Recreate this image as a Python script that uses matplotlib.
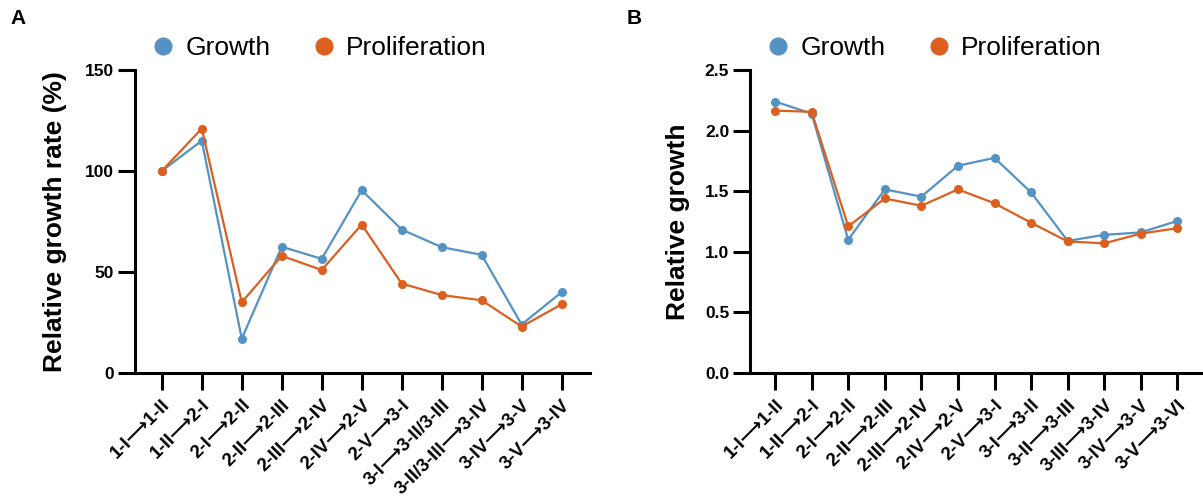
import matplotlib
matplotlib.use("Agg")
import matplotlib.pyplot as plt
from matplotlib.lines import Line2D

plt.rcParams['font.family'] = ['Liberation Sans', 'DejaVu Sans']

# Panel A data
cats_a = ["1-I⟶1-II", "1-II⟶2-I", "2-I⟶2-II", "2-II⟶2-III", "2-III⟶2-IV",
          "2-IV⟶2-V", "2-V⟶3-I", "3-I⟶3-II/3-III", "3-II/3-III⟶3-IV",
          "3-IV⟶3-V", "3-V⟶3-IV"]
growth_a = [100, 115, 17, 62.5, 56.5, 90.5, 71, 62.3, 58.5, 24, 40]
prolif_a = [100, 121, 35, 58, 51, 73.5, 44.3, 38.6, 36, 23, 34]

# Panel B data
cats_b = ["1-I⟶1-II", "1-II⟶2-I", "2-I⟶2-II", "2-II⟶2-III", "2-III⟶2-IV",
          "2-IV⟶2-V", "2-V⟶3-I", "3-I⟶3-II", "3-II⟶3-III", "3-III⟶3-IV",
          "3-IV⟶3-V", "3-V⟶3-VI"]
growth_b = [2.24, 2.14, 1.10, 1.515, 1.455, 1.71, 1.775, 1.49, 1.09, 1.14, 1.16, 1.255]
prolif_b = [2.165, 2.155, 1.21, 1.44, 1.38, 1.515, 1.40, 1.24, 1.085, 1.07, 1.15, 1.195]

BLUE = "#5592C4"
ORANGE = "#DC5F20"

W, H = 1203, 503
fig = plt.figure(figsize=(W / 100, H / 100), dpi=100)

def make_axes(x0, x1, y0, y1):
    return fig.add_axes([x0 / W, 1 - y1 / H, (x1 - x0) / W, (y1 - y0) / H])

axA = make_axes(135, 590, 70, 373)
axB = make_axes(750, 1203, 70, 373)

def style(ax, cats, g, p, ylim, yticks, ylabel, xlim, yfmt, lpad):
    x = list(range(len(cats)))
    ax.plot(x, g, color=BLUE, lw=1.6, marker='o', ms=5.5, zorder=3)
    ax.plot(x, p, color=ORANGE, lw=1.6, marker='o', ms=5.5, zorder=3)
    ax.set_xlim(*xlim)
    ax.set_ylim(*ylim)
    ax.set_yticks(yticks)
    ax.set_yticklabels([yfmt(v) for v in yticks], fontsize=12.5, fontweight='bold')
    ax.set_xticks(x)
    ax.set_xticklabels(cats, rotation=45, ha='right', va='top', rotation_mode='anchor',
                       fontsize=13.5, fontweight='bold')
    for s in ['top', 'right']:
        ax.spines[s].set_visible(False)
    for s in ['left', 'bottom']:
        ax.spines[s].set_linewidth(2.2)
    ax.tick_params(axis='both', direction='out', length=12, width=2.2, pad=3)
    ax.tick_params(axis='x', pad=5)
    ax.set_ylabel(ylabel, fontsize=19, fontweight='bold', labelpad=lpad)
    ax.set_facecolor('none')

style(axA, cats_a, growth_a, prolif_a, (0, 150), [0, 50, 100, 150],
      "Relative growth rate (%)", (-0.67, 10.71), lambda v: f"{v:g}", 13)
style(axB, cats_b, growth_b, prolif_b, (0, 2.5), [0, 0.5, 1.0, 1.5, 2.0, 2.5],
      "Relative growth", (-0.685, 11.7), lambda v: f"{v:.1f}", 11)

handles = [Line2D([], [], color=BLUE, marker='o', ls='none', ms=12),
           Line2D([], [], color=ORANGE, marker='o', ls='none', ms=12)]
labels = ["Growth", "Proliferation"]
for ax, xpos in [(axA, 150), (axB, 765)]:
    fig.legend(handles, labels, loc='center left', bbox_to_anchor=(xpos / W, 1 - 48 / H),
               ncol=2, frameon=False, fontsize=19, handletextpad=0.35,
               columnspacing=1.5, borderaxespad=0, borderpad=0, handlelength=1.0)

fig.text(10 / W, 1 - 18 / H, "A", fontsize=15, fontweight='bold', va='center', ha='left')
fig.text(627 / W, 1 - 18 / H, "B", fontsize=15, fontweight='bold', va='center', ha='left')

fig.savefig("out.png", dpi=100)
